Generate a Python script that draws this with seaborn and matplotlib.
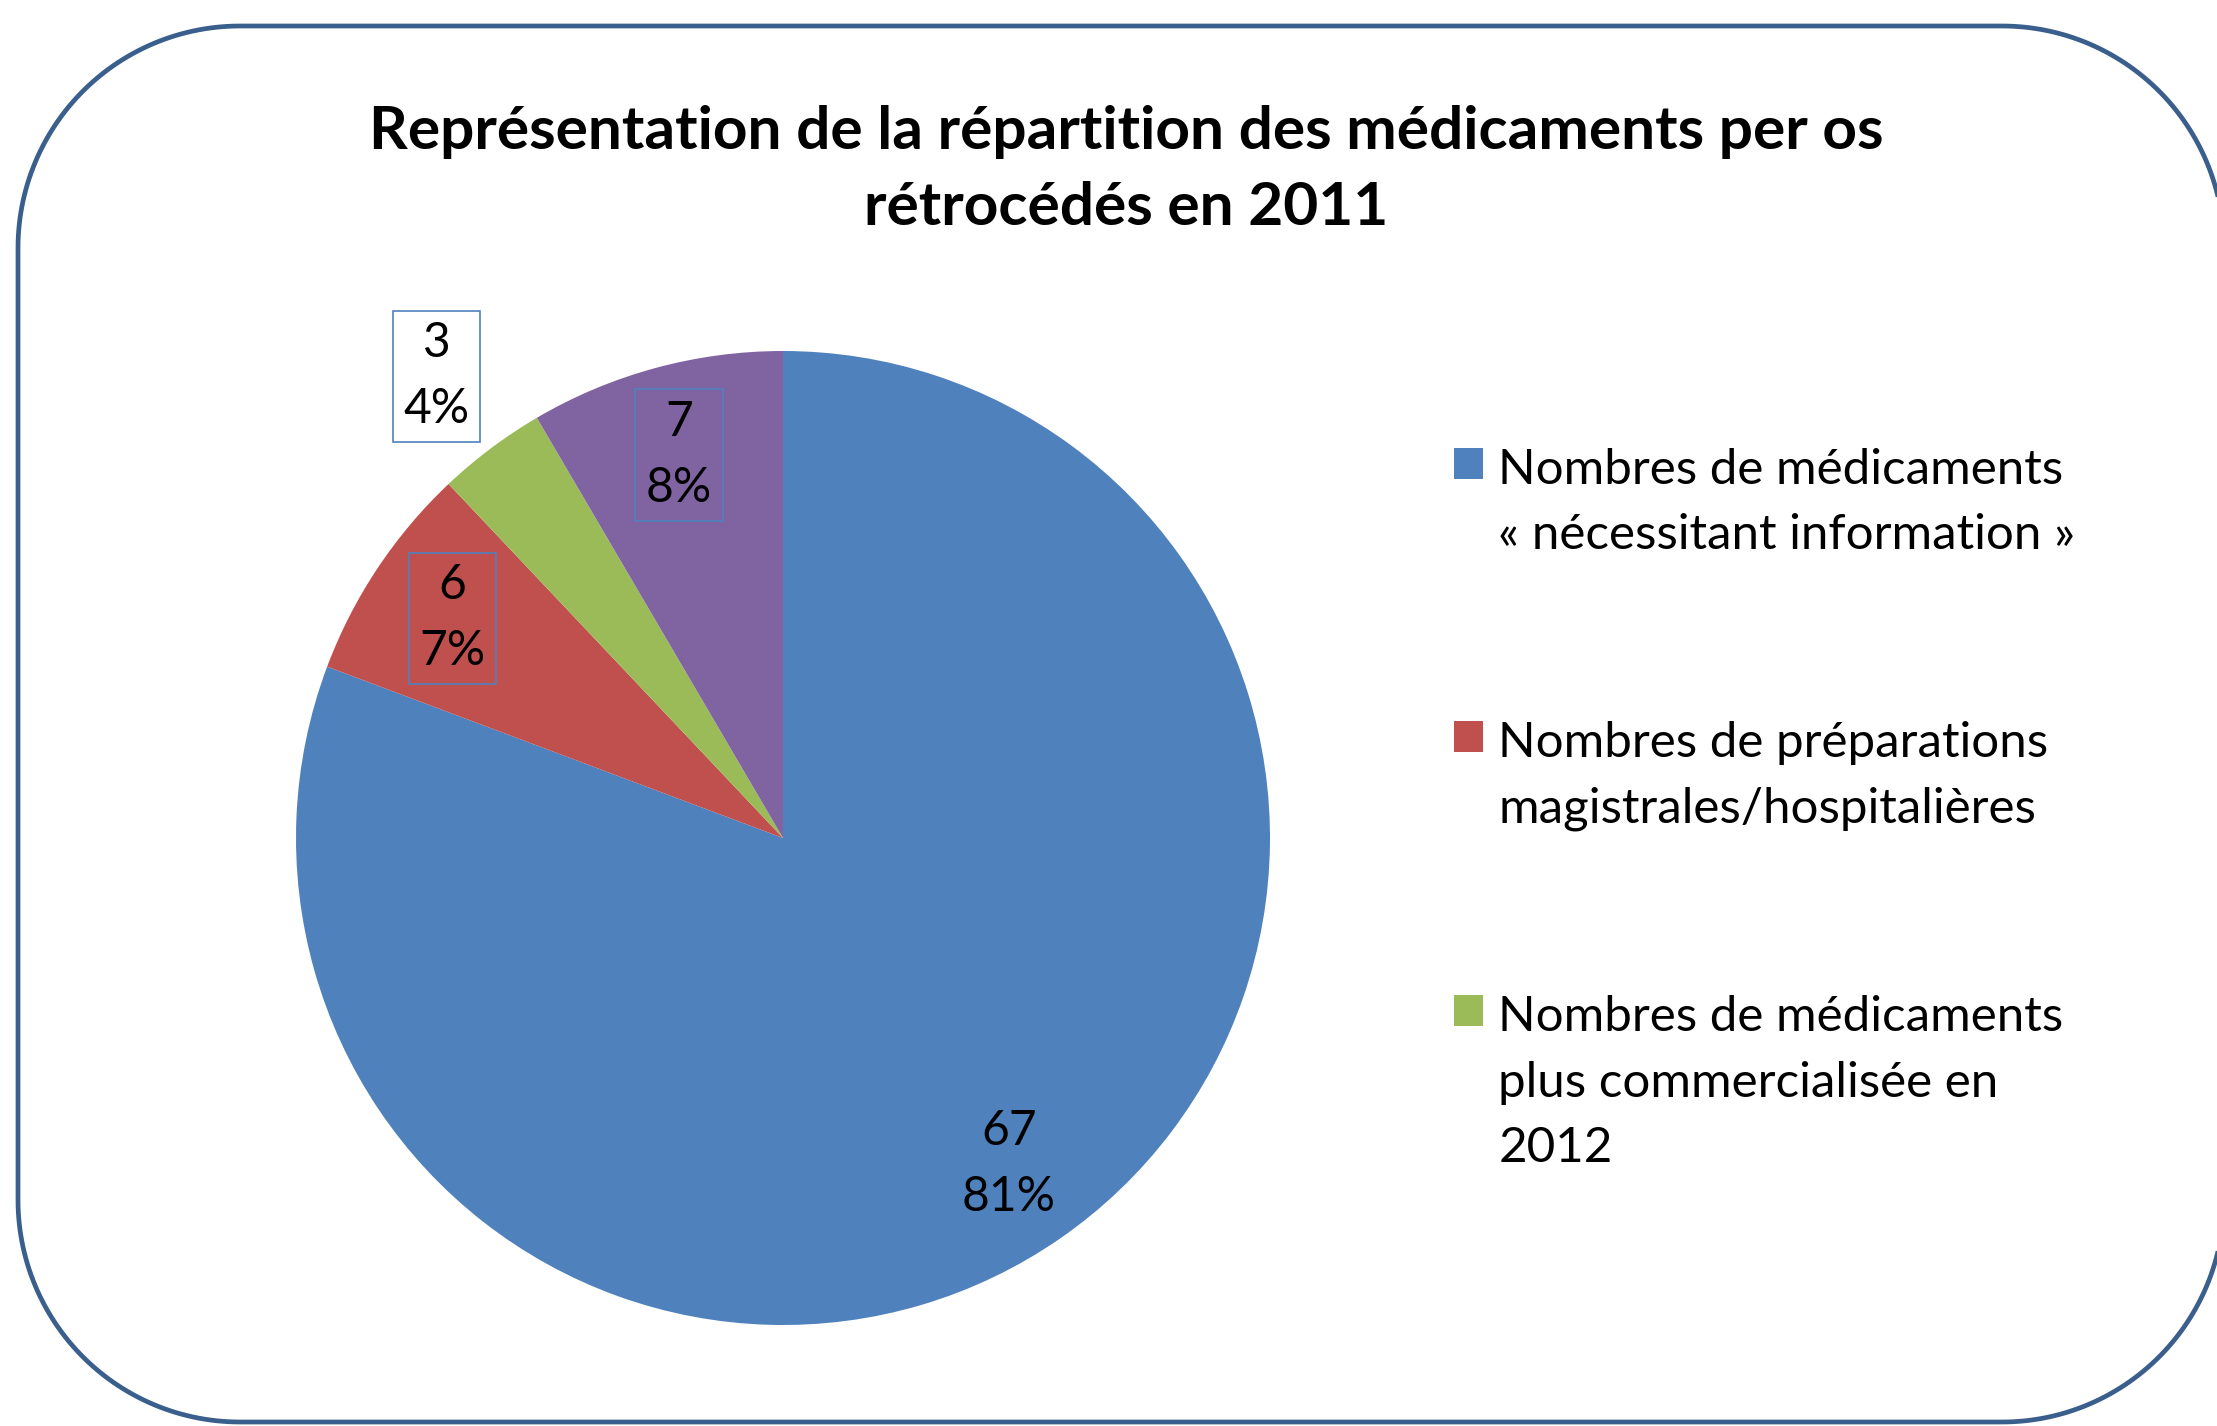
import numpy as np
import matplotlib
matplotlib.use("Agg")
import matplotlib.pyplot as plt
import seaborn as sns
from matplotlib.patches import Polygon
from matplotlib.transforms import IdentityTransform

# ---- data ----
categories = [
    "Nombres de médicaments\n« nécessitant information »",
    "Nombres de préparations\nmagistrales/hospitalières",
    "Nombres de médicaments\nplus commercialisée en\n2012",
    "Autres",
]
values = [67, 6, 3, 7]
legend_count = 3
colors = ["#4F81BD", "#C0504D", "#9BBB59", "#8064A2"]
title = "Représentation de la répartition des médicaments per os\nrétrocédés en 2011"

sns.set_theme(style="white")
plt.rcParams['font.family'] = ['Lato', 'DejaVu Sans']
plt.rcParams['text.color'] = 'black'
palette = sns.color_palette(colors)

W, H = 2217, 1426
fig = plt.figure(figsize=(W / 100, H / 100), dpi=100)
fig.patch.set_facecolor('white')


# rounded frame as a dense polygon (display pixel coordinates, y up)
def rounded_rect(x0, y0, x1, y1, rad, n=60):
    pts = []
    corners = [((x1 - rad, y1 - rad), 90, 0),
               ((x1 - rad, y0 + rad), 0, -90),
               ((x0 + rad, y0 + rad), -90, -180),
               ((x0 + rad, y1 - rad), 180, 90)]
    for (ccx, ccy), a0, a1 in corners:
        a = np.deg2rad(np.linspace(a0, a1, n))
        pts.extend(zip(ccx + rad * np.cos(a), ccy + rad * np.sin(a)))
    return np.array(pts)


border = Polygon(rounded_rect(18, H - 1422, 2224, H - 26, 222), closed=True,
                 transform=IdentityTransform(), facecolor='none',
                 edgecolor='#3A5F8D', linewidth=3.4, joinstyle='round')
fig.add_artist(border)

# pie
cx, cy, r = 783, 838, 487
ax = fig.add_axes([(cx - r) / W, (H - cy - r) / H, 2 * r / W, 2 * r / H])
total = sum(values)


def fmt(p):
    v = int(round(p * total / 100))
    return f"{v}\n{p:.0f}%"


wedges, texts, autotexts = ax.pie(
    values, colors=palette, startangle=90, counterclock=False,
    autopct=fmt, pctdistance=0.815, radius=1,
    wedgeprops=dict(linewidth=0),
    textprops=dict(fontsize=34.5, color='black', linespacing=1.62))
ax.set_xlim(-1, 1)
ax.set_ylim(-1, 1)

for i in [1, 2, 3]:
    autotexts[i].set_bbox(dict(boxstyle='square,pad=0.22', fc='none',
                               ec='#4F81BD', lw=1.2))
# green label sits outside its slice
w = wedges[2]
mid = np.deg2rad((w.theta1 + w.theta2) / 2)
autotexts[2].set_position((1.185 * np.cos(mid), 1.185 * np.sin(mid)))
autotexts[2].get_bbox_patch().set_facecolor('white')

# legend
leg = fig.legend(wedges[:legend_count], categories[:legend_count],
                 loc='upper left', bbox_to_anchor=(1454 / W, 1 - 448 / H),
                 frameon=False, fontsize=35.5, handlelength=0.58, handleheight=0.58,
                 handletextpad=0.32, labelspacing=3.33, borderpad=0, borderaxespad=0)
for t in leg.get_texts():
    t.set_linespacing(1.59)
    t.set_color('black')
for col in leg._legend_box.get_children()[1].get_children():
    for item in col.get_children():
        item.align = 'top'

fig.text(1126 / W, 1 - 170 / H, title, ha='center', va='center',
         fontsize=43.5, fontweight='bold', linespacing=1.52, color='black')

fig.savefig("out.png", dpi=100)
